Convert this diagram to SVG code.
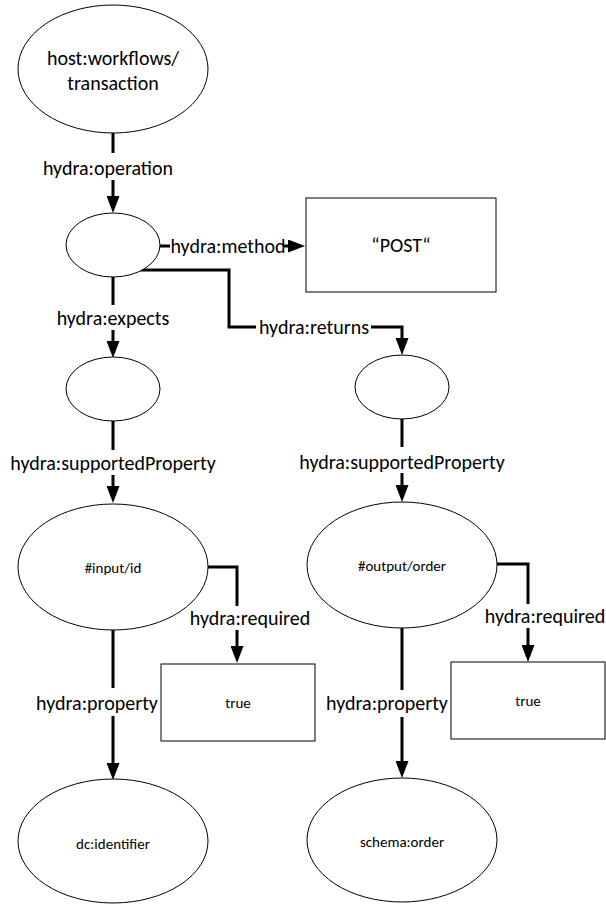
<svg xmlns="http://www.w3.org/2000/svg" width="606" height="904" viewBox="0 0 606 904">
<style>
.shape{fill:#fff;stroke:#000;stroke-width:1}
.edge{fill:none;stroke:#000;stroke-width:3}
.lbl{font-family:Carlito,Lato,"Liberation Sans",sans-serif;font-size:20px;fill:#000;text-anchor:middle;dominant-baseline:central}
.big{font-family:Carlito,Lato,"Liberation Sans",sans-serif;font-size:20px;fill:#000;text-anchor:middle;dominant-baseline:central}
.small{font-family:Carlito,Lato,"Liberation Sans",sans-serif;font-size:15px;fill:#000;text-anchor:middle;dominant-baseline:central}
</style>
<defs>
<marker id="arr" markerUnits="userSpaceOnUse" markerWidth="18" markerHeight="13" refX="0" refY="6.5" orient="auto" viewBox="0 0 18 13">
<path d="M0,0 L17,6.5 L0,13 Z" fill="#000"/>
</marker>
</defs>
<rect width="606" height="904" fill="#fff"/>
<g id="connectors">
<path class="edge" d="M113,133 V153 M113,180 V196" marker-end="url(#arr)"/>
<path class="edge" d="M160,246 H170 M284,246 H288" marker-end="url(#arr)"/>
<path class="edge" d="M113,277 V305 M113,330 V341" marker-end="url(#arr)"/>
<path class="edge" d="M140,270 H229 V327 H256 M371,327 H402 V338" marker-end="url(#arr)"/>
<path class="edge" d="M113,421 V450 M113,475 V486" marker-end="url(#arr)"/>
<path class="edge" d="M402,418 V447 M402,473 V485" marker-end="url(#arr)"/>
<path class="edge" d="M208,567 H237 V606 M237,630 V646" marker-end="url(#arr)"/>
<path class="edge" d="M497,564 H528 V604 M528,628 V645" marker-end="url(#arr)"/>
<path class="edge" d="M113,630 V688 M113,716 V763" marker-end="url(#arr)"/>
<path class="edge" d="M402,628 V690 M402,717 V761" marker-end="url(#arr)"/>
<text class="lbl" x="108" y="168">hydra:operation</text>
<text class="lbl" x="228" y="246">hydra:method</text>
<text class="lbl" x="113" y="318">hydra:expects</text>
<text class="lbl" x="314" y="327">hydra:returns</text>
<text class="lbl" x="113" y="463">hydra:supportedProperty</text>
<text class="lbl" x="402" y="462">hydra:supportedProperty</text>
<text class="lbl" x="250" y="618">hydra:required</text>
<text class="lbl" x="545" y="616">hydra:required</text>
<text class="lbl" x="97" y="703">hydra:property</text>
<text class="lbl" x="387" y="703">hydra:property</text>
</g>
<g id="node-transaction">
<ellipse class="shape" cx="113" cy="69" rx="95" ry="64"/>
<text class="big" x="113" y="58">host:workflows/</text>
<text class="big" x="113" y="83">transaction</text>
</g>
<g id="node-operation">
<ellipse class="shape" cx="113" cy="245" rx="47" ry="32"/>
</g>
<g id="node-post">
<rect class="shape" x="306" y="198" width="190" height="94"/>
<text class="lbl" x="401" y="245">“POST“</text>
</g>
<g id="node-expects">
<ellipse class="shape" cx="113" cy="389" rx="47" ry="32"/>
</g>
<g id="node-returns">
<ellipse class="shape" cx="402" cy="387" rx="47" ry="32"/>
</g>
<g id="node-input-id">
<ellipse class="shape" cx="113" cy="567" rx="95" ry="63"/>
<text class="small" x="113" y="568">#input/id</text>
</g>
<g id="node-output-order">
<ellipse class="shape" cx="402" cy="565" rx="95" ry="63"/>
<text class="small" x="402" y="566">#output/order</text>
</g>
<g id="node-true-left">
<rect class="shape" x="161" y="664" width="154" height="77"/>
<text class="small" x="238" y="703">true</text>
</g>
<g id="node-true-right">
<rect class="shape" x="451" y="662" width="154" height="77"/>
<text class="small" x="528" y="701">true</text>
</g>
<g id="node-dc-identifier">
<ellipse class="shape" cx="113" cy="841" rx="95" ry="62"/>
<text class="small" x="113" y="844">dc:identifier</text>
</g>
<g id="node-schema-order">
<ellipse class="shape" cx="402" cy="840" rx="95" ry="62"/>
<text class="small" x="402" y="842">schema:order</text>
</g>
</svg>
